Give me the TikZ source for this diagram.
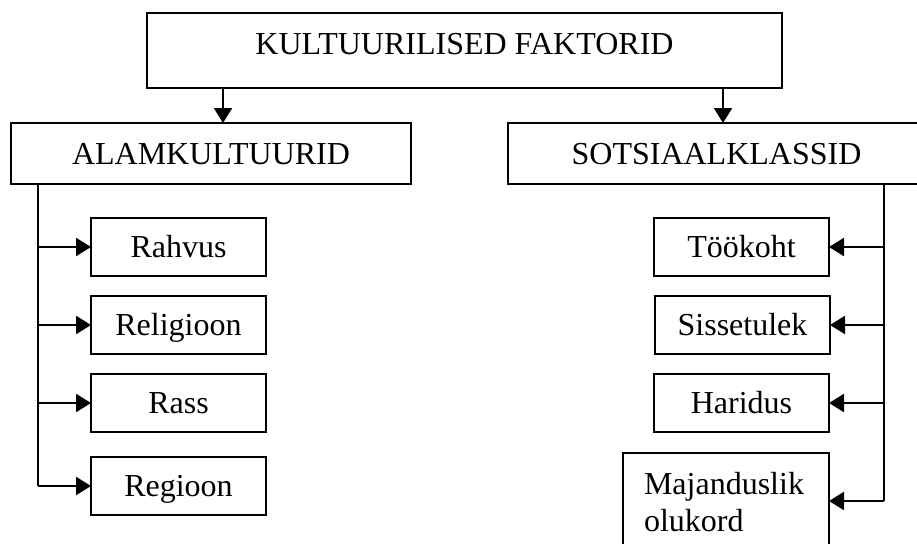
\documentclass[tikz,border=0pt]{standalone}
\usepackage{fontspec}
\setmainfont{Liberation Serif}
\usetikzlibrary{arrows.meta}
\begin{document}
\begin{tikzpicture}[x=1pt,y=-1pt,
  box/.style={draw,line width=2.2pt,inner sep=0pt,outer sep=0pt,font=\fontsize{32}{37}\selectfont},
  lvl/.style={box,text height=21pt,text depth=0pt},
  small/.style={lvl,minimum width=175pt,minimum height=58pt},
  arr/.style={line width=2.2pt,-{Triangle[length=15pt,width=18pt]}},
  ln/.style={line width=2.2pt}]
\useasboundingbox (0,0) rectangle (917,543);
\clip (0,0) rectangle (917,543);
\node[box,minimum width=635pt,minimum height=75pt,text height=22pt,text depth=13pt] (top) at (464.5,50.5) {KULTUURILISED FAKTORID};
\node[lvl,minimum width=400pt,minimum height=61pt] (alam) at (211,153.5) {ALAMKULTUURID};
\node[lvl,minimum width=417pt,minimum height=61pt] (soc) at (716.5,153.5) {SOTSIAALKLASSID};
\node[small] (rahvus) at (178.5,247) {Rahvus};
\node[small] (religioon) at (178.5,325) {Religioon};
\node[small] (rass) at (178.5,403) {Rass};
\node[small] (regioon) at (178.5,486) {Regioon};
\node[small] (tookoht) at (741.5,247) {Töökoht};
\node[small] (sissetulek) at (742.5,325) {Sissetulek};
\node[small] (haridus) at (741.5,403) {Haridus};
\node[box,anchor=north west,align=left,text width=164pt,inner xsep=21pt,inner ysep=19pt] (maj) at (623,453) {Majanduslik\\olukord};
\coordinate (a1) at (223,0);
\coordinate (a2) at (723,0);
\coordinate (v1) at (38,0);
\coordinate (v2) at (884,0);
\coordinate (e2) at (884,501);
\draw[arr] (top.south -| a1) -- (alam.north -| a1);
\draw[arr] (top.south -| a2) -- (soc.north -| a2);
\draw[ln] (alam.south -| v1) -- (regioon.west -| v1);
\draw[arr] (rahvus.west -| v1) -- (rahvus.west);
\draw[arr] (religioon.west -| v1) -- (religioon.west);
\draw[arr] (rass.west -| v1) -- (rass.west);
\draw[arr] (regioon.west -| v1) -- (regioon.west);
\draw[ln] (soc.south -| v2) -- (e2);
\draw[arr] (tookoht.east -| v2) -- (tookoht.east);
\draw[arr] (sissetulek.east -| v2) -- (sissetulek.east);
\draw[arr] (haridus.east -| v2) -- (haridus.east);
\draw[arr] (e2) -- (maj.east |- e2);
\end{tikzpicture}
\end{document}
